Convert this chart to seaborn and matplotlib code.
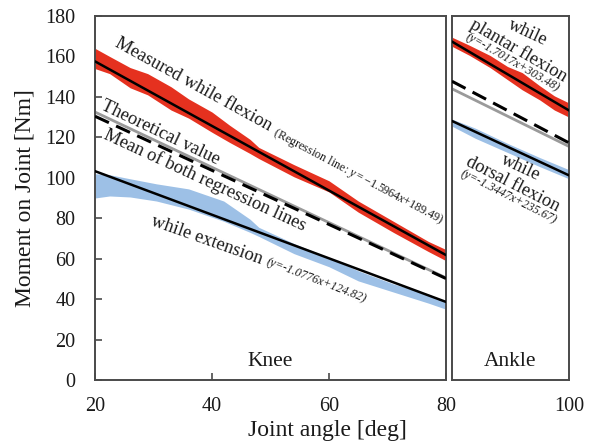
import matplotlib
matplotlib.use("Agg")
import matplotlib.pyplot as plt
import seaborn as sns
import numpy as np
import pandas as pd

# ---------------- data ----------------
# Knee, measured while flexion (red band: upper / lower edges)
knee_flex_x = [20, 22.5, 26, 29, 33, 36, 40, 43, 46.5, 48, 54, 60, 65, 71, 77, 80]
knee_flex_hi = [164, 160, 154.5, 151.5, 145, 139, 132.5, 126, 119, 115, 106.5, 98.5, 88.5, 78.5, 68.5, 64.5]
knee_flex_lo = [154, 151.5, 144.5, 141, 133.5, 129.5, 122.5, 117.5, 112, 109.5, 100.5, 93, 83, 73, 63.5, 59]

# Knee, measured while extension (blue band)
knee_ext_x = [20, 22.5, 26, 30.5, 36, 42, 46.5, 48, 54, 60, 65, 71, 77, 80]
knee_ext_hi = [102, 101.5, 99.5, 97, 94.5, 88.5, 79.5, 75.5, 67.5, 60.5, 54, 47.5, 42.5, 38.5]
knee_ext_lo = [90, 91, 90.5, 88.5, 84.5, 78.5, 73, 71, 62.5, 56, 49, 43.5, 38, 35]

# Ankle, measured while plantar flexion (red band)
ank_pl_x = [80, 83, 86.5, 89.5, 92, 95, 97.5, 100]
ank_pl_hi = [169.5, 165.5, 160.5, 155, 152, 145.5, 140.5, 137]
ank_pl_lo = [165, 160.5, 154.5, 148.5, 143.5, 138.5, 133.5, 130]

# Ankle, measured while dorsal flexion (blue band)
ank_do_x = [80, 84, 89.5, 95, 100]
ank_do_hi = [129, 124.5, 117, 110, 104]
ank_do_lo = [125.5, 119.5, 112.5, 105.5, 99.5]

# Straight lines (end points)
knee_x = [20, 80]
knee_flex_reg = [157.56, 61.77]
knee_ext_reg = [103.27, 38.61]
knee_mean = [130.42, 50.19]
knee_theory = [132.5, 50.5]

ank_x = [80, 100]
ank_pl_reg = [167.34, 133.31]
ank_do_reg = [128.09, 101.20]
ank_mean = [147.72, 117.26]
ank_theory = [144.0, 115.5]

y_ticks = [0, 20, 40, 60, 80, 100, 120, 140, 160, 180]
knee_xticks = [20, 40, 60, 80]
ank_xticks = [80, 100]

# ---------------- style ----------------
sns.set_theme(style="ticks")
plt.rcParams["font.family"] = ["Liberation Serif", "DejaVu Serif"]
plt.rcParams["mathtext.fontset"] = "custom"
plt.rcParams["mathtext.rm"] = "Liberation Serif"
plt.rcParams["mathtext.it"] = "Liberation Serif:italic"

RED = "#E5311F"
BLUE = "#9DC0E6"
GRAY = "#9A9A9A"
FRAME = "#4A4A4A"
TXT = "#1A1A1A"

fig = plt.figure(figsize=(5.89, 4.42), dpi=100)
ax1 = fig.add_axes([0.1613, 0.1403, 0.5959, 0.8235])
ax2 = fig.add_axes([0.7674, 0.1403, 0.1986, 0.8235])


def draw(ax, bx_r, hi_r, lo_r, bx_b, hi_b, lo_b, lx, theory, mean, reg_r, reg_b):
    ax.fill_between(bx_r, lo_r, hi_r, color=RED, lw=0, zorder=1)
    ax.fill_between(bx_b, lo_b, hi_b, color=BLUE, lw=0, zorder=1)
    df = pd.DataFrame({"x": lx, "theory": theory, "mean": mean,
                       "reg_r": reg_r, "reg_b": reg_b})
    sns.lineplot(data=df, x="x", y="theory", ax=ax, color=GRAY, lw=2, zorder=2)
    sns.lineplot(data=df, x="x", y="mean", ax=ax, color="black", lw=2.2, zorder=3)
    ax.lines[-1].set_dashes((5, 2.6))
    sns.lineplot(data=df, x="x", y="reg_r", ax=ax, color="black", lw=1.8, zorder=4)
    sns.lineplot(data=df, x="x", y="reg_b", ax=ax, color="black", lw=1.8, zorder=4)


draw(ax1, knee_flex_x, knee_flex_hi, knee_flex_lo, knee_ext_x, knee_ext_hi, knee_ext_lo,
     knee_x, knee_theory, knee_mean, knee_flex_reg, knee_ext_reg)
draw(ax2, ank_pl_x, ank_pl_hi, ank_pl_lo, ank_do_x, ank_do_hi, ank_do_lo,
     ank_x, ank_theory, ank_mean, ank_pl_reg, ank_do_reg)

for ax in (ax1, ax2):
    ax.set_ylim(0, 180)
    ax.set_xlabel("")
    ax.set_ylabel("")
    for s in ax.spines.values():
        s.set_visible(True)
        s.set_color(FRAME)
        s.set_linewidth(1.4)
    ax.tick_params(direction="in", length=5, width=1.2, color=FRAME,
                   labelsize=14.5, labelcolor=TXT, top=False, right=False)
    ax.tick_params(axis="x", pad=12)
    ax.tick_params(axis="y", pad=14)

ax1.set_xlim(20, 80)
ax1.set_xticks(knee_xticks)
ax1.set_yticks(y_ticks)
ax2.set_xlim(80, 100)
ax2.set_xticks(ank_xticks)
ax2.set_xticklabels(["", "100"])
ax2.set_yticks(y_ticks)
ax2.tick_params(axis="y", left=False, labelleft=False)
ax2.tick_params(axis="x", length=0)

ax1.set_ylabel("Moment on Joint [Nm]", fontsize=17, labelpad=7, color=TXT)
fig.text(0.556, 0.027, "Joint angle [deg]", fontsize=17, ha="center", va="center",
         color=TXT)

kw = dict(ha="center", va="center", rotation_mode="anchor", color=TXT)
ax1.text(36.84, 146.1, "Measured while flexion", rotation=-28.8, fontsize=13.3, **kw)
ax1.text(65.0, 100.8, r"(Regression line: $\mathit{y{=}{-}1.5964x{+}189.49}$)",
         rotation=-27.8, fontsize=8.7, **kw)
ax1.text(31.2, 122.4, "Theoretical value", rotation=-25.5, fontsize=13.3, **kw)
ax1.text(38.8, 98.9, "Mean of both regression lines", rotation=-24.8, fontsize=13.3, **kw)
ax1.text(39.15, 69.2, "while extension", rotation=-19.5, fontsize=13.3, **kw)
ax1.text(57.8, 49.0, "(y=-1.0776x+124.82)", rotation=-21, fontsize=8.7,
         style="italic", **kw)
ax1.text(50, 9, "Knee", fontsize=15.5, ha="center", va="center", color=TXT)

ax2.text(93.0, 171.6, "while", rotation=-25, fontsize=13.3, **kw)
ax2.text(91.3, 162.8, "plantar flexion", rotation=-30, fontsize=13.3, **kw)
ax2.text(90.3, 157.3, "(y=-1.7017x+303.48)", rotation=-30, fontsize=8.7,
         style="italic", **kw)
ax2.text(91.8, 104.8, "while", rotation=-25, fontsize=13.3, **kw)
ax2.text(90.4, 96.9, "dorsal flexion", rotation=-27, fontsize=13.3, **kw)
ax2.text(89.6, 90.5, "(y=-1.3447x+235.67)", rotation=-27, fontsize=8.7,
         style="italic", **kw)
ax2.text(90, 9, "Ankle", fontsize=15.5, ha="center", va="center", color=TXT)

fig.savefig("out.png", dpi=100)
